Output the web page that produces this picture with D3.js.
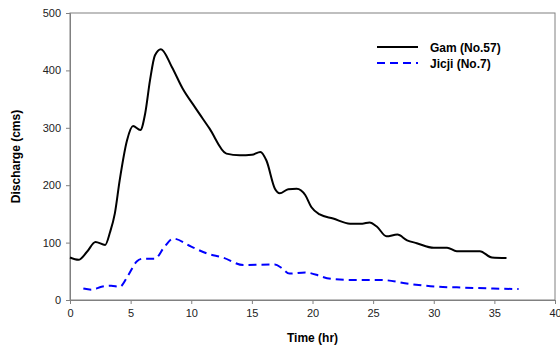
<!DOCTYPE html>
<html>
  <head>
    <meta charset="UTF-8">
    <title>Discharge hydrograph</title>
    <script src="https://d3js.org/d3.v7.min.js" charset="utf-8"></script>
    <style>
      body { margin: 0; background: #fff; }
    </style>
  </head>
  <body>
    <script>
        var w = 560;
        var h = 349;

        // Gam (No.57)
        var gamTime = [0, 0.7, 1.4, 2.1, 2.9, 3.3, 3.7, 4.1, 4.7, 5.2, 5.8, 6.2, 6.6, 7.0, 7.5, 8.4, 9.3, 10.3, 11.5, 12.9, 14.0, 15.0, 15.7, 16.2, 16.9, 17.3, 18.0, 18.7, 19.4, 19.9, 20.6, 21.7, 23.1, 24.1, 24.7, 25.3, 26.1, 27.0, 27.8, 28.6, 30.0, 31.1, 31.9, 33.8, 34.8, 36.0];
        var gamFlow = [74, 70, 84, 101, 96, 118, 151, 209, 278, 303, 296, 325, 383, 426, 437, 406, 368, 336, 299, 255, 252, 253, 258, 243, 194, 186, 193, 194, 183, 162, 149, 142, 133, 133, 135, 128, 111, 114, 104, 99, 91, 91, 85, 85, 74, 73];

        // Jicji (No.7)
        var jicjiTime = [1.1, 1.8, 2.6, 3.4, 4.1, 4.8, 5.5, 6.0, 7.0, 7.8, 8.5, 10.0, 11.3, 12.6, 14.3, 16.9, 17.5, 18.1, 19.4, 20.6, 21.2, 23.1, 25.6, 28.0, 30.4, 31.9, 34.9, 37.0];
        var jicjiFlow = [20, 18, 23, 25, 23, 43, 67, 72, 72, 93, 107, 93, 81, 74, 61, 62, 55, 46, 48, 42, 38, 35, 35, 28, 23, 22, 20, 19];

        var xTicks = [0, 5, 10, 15, 20, 25, 30, 35, 40];
        var yTicks = [0, 100, 200, 300, 400, 500];

        var series = [
            {name: "Gam (No.57)", time: gamTime, flow: gamFlow, color: "#000000", dash: null},
            {name: "Jicji (No.7)", time: jicjiTime, flow: jicjiFlow, color: "#0000FF", dash: "8,5"}
        ];

        var margin = {left: 70, right: 5, top: 13, bottom: 49};

        var x = d3.scaleLinear().domain([0, 40]).range([margin.left, w - margin.right]);
        var y = d3.scaleLinear().domain([0, 500]).range([h - margin.bottom, margin.top]);

        var svg = d3.select("body").append("svg")
            .attr("width", w)
            .attr("height", h);

        // plot frame
        svg.append("rect")
            .attr("x", x(0))
            .attr("y", y(500))
            .attr("width", x(40) - x(0))
            .attr("height", y(0) - y(500))
            .attr("fill", "none")
            .attr("stroke", "#808080")
            .attr("stroke-width", 1);

        var xAxis = svg.append("g")
            .attr("transform", "translate(0," + y(0) + ")")
            .call(d3.axisBottom(x).tickValues(xTicks).tickSize(4).tickPadding(5));

        var yAxis = svg.append("g")
            .attr("transform", "translate(" + x(0) + ",0)")
            .call(d3.axisLeft(y).tickValues(yTicks).tickSize(4).tickPadding(5));

        svg.selectAll(".domain, .tick line").attr("stroke", "#808080");
        svg.selectAll(".tick text")
            .attr("font-family", "Liberation Sans, Arial, sans-serif")
            .attr("font-size", "11px")
            .attr("fill", "#222");

        //lines
        var line = d3.line()
            .x(function(d){ return x(d[0]); })
            .y(function(d){ return y(d[1]); })
            .curve(d3.curveMonotoneX);

        series.forEach(function(s){
            var pts = s.time.map(function(t, i){ return [t, s.flow[i]]; });
            svg.append("path")
                .datum(pts)
                .attr("d", line)
                .attr("fill", "none")
                .attr("stroke", s.color)
                .attr("stroke-width", 2)
                .attr("stroke-dasharray", s.dash);
        });

        // axis titles
        svg.append("text")
            .text("Time (hr)")
            .attr("x", x(20))
            .attr("y", 342)
            .attr("text-anchor", "middle")
            .attr("font-family", "Liberation Sans, Arial, sans-serif")
            .attr("font-size", "12px")
            .attr("font-weight", "bold");

        svg.append("text")
            .text("Discharge (cms)")
            .attr("transform", "translate(20," + y(250) + ") rotate(-90)")
            .attr("text-anchor", "middle")
            .attr("font-family", "Liberation Sans, Arial, sans-serif")
            .attr("font-size", "12px")
            .attr("font-weight", "bold");

        // legend
        var legend = svg.selectAll(".legend")
            .data(series)
            .enter()
            .append("g")
            .attr("transform", function(d, i){ return "translate(377," + (47 + i * 16) + ")"; });

        legend.append("line")
            .attr("x1", 0).attr("x2", 41)
            .attr("y1", 0).attr("y2", 0)
            .attr("stroke", function(d){ return d.color; })
            .attr("stroke-width", 2)
            .attr("stroke-dasharray", function(d){ return d.dash ? "8,5" : null; });

        legend.append("text")
            .text(function(d){ return d.name; })
            .attr("x", 53)
            .attr("y", 4.5)
            .attr("font-family", "Liberation Sans, Arial, sans-serif")
            .attr("font-size", "12px")
            .attr("font-weight", "bold");
    </script>
  </body>
</html>
